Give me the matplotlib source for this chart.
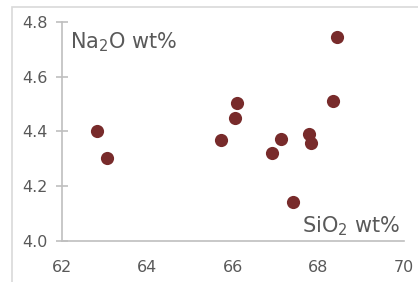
import matplotlib.pyplot as plt
from matplotlib.patches import Rectangle

# data
sio2 = [62.83, 63.05, 65.71, 66.10, 66.05, 67.12, 66.91, 67.77, 67.83, 67.41, 68.33, 68.44]
na2o = [4.403, 4.302, 4.368, 4.503, 4.450, 4.373, 4.321, 4.391, 4.359, 4.141, 4.513, 4.746]
xticks = [62, 64, 66, 68, 70]
yticks = [4.0, 4.2, 4.4, 4.6, 4.8]

grey = "#595959"
axcol = "#BFBFBF"

fig = plt.figure(figsize=(4.18, 2.82), dpi=100)
ax = fig.add_axes([62/418, 1-241/282, 342/418, 219/282])

# outer chart frame (cropped on right and bottom)
fig.patches.append(Rectangle((12/418, -0.5), 2, 1.5 - 7/282, transform=fig.transFigure,
                             fill=False, edgecolor="#D9D9D9", linewidth=1.2))

ax.scatter(sio2, na2o, s=90, color="#782B2B", linewidths=0, zorder=3)

ax.set_xlim(62, 70)
ax.set_ylim(4.0, 4.8)
ax.set_xticks(xticks)
ax.set_yticks(yticks)
ax.set_yticklabels(["%.1f" % v for v in yticks])

for s in ["top", "right"]:
    ax.spines[s].set_visible(False)
ax.spines["left"].set_color(axcol)
ax.spines["bottom"].set_color(axcol)
ax.spines["left"].set_linewidth(1.2)
ax.spines["bottom"].set_linewidth(1.2)
ax.tick_params(axis="y", direction="inout", length=9, width=1.2, color=axcol,
               labelsize=11.5, labelcolor=grey, pad=6)
ax.tick_params(axis="x", length=0, labelsize=11.5, labelcolor=grey, pad=14)

plt.rcParams["mathtext.default"] = "regular"
ax.text(0.023, 0.881, r"Na$_2$O wt%", transform=ax.transAxes, ha="left", va="baseline",
        fontsize=15, color=grey)
ax.text(0.988, 0.041, r"SiO$_2$ wt%", transform=ax.transAxes, ha="right", va="baseline",
        fontsize=15, color=grey)

fig.savefig("out.png", dpi=100)
